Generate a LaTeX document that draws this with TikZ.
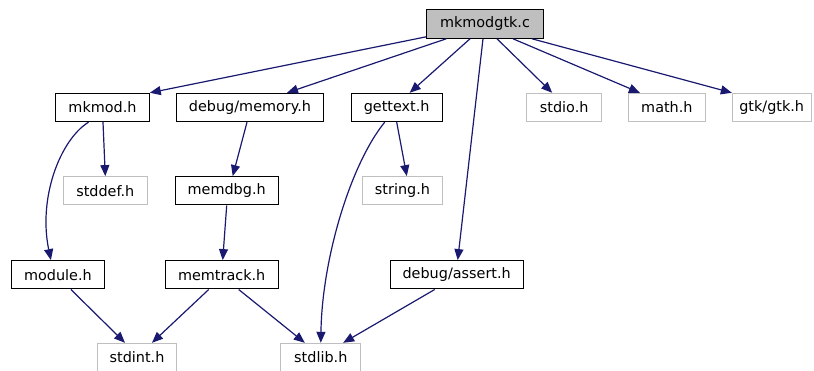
\documentclass[tikz,border=0pt]{standalone}
\usepackage{fontspec}
\setmainfont{DejaVu Sans}
\usetikzlibrary{arrows.meta}
\definecolor{edgeblue}{HTML}{191970}
\definecolor{graybd}{HTML}{BFBFBF}
\begin{document}
\begin{tikzpicture}[x=1pt,y=-1pt,
  box/.style={draw=black,line width=1pt,inner sep=0pt,minimum height=28.4pt,font=\fontsize{14.4}{16}\selectfont,text=black},
  sysbox/.style={box,draw=graybd},
  mainbox/.style={box,fill=graybd,minimum height=29pt},
  dep/.style={draw=edgeblue,line width=1.2pt,-{Triangle[length=11pt,width=9pt]}}]
\useasboundingbox (0,0) rectangle (814,371);
\node[mainbox,minimum width=116.6pt] (main) at (485,23.8) {mkmodgtk.c};
\node[box,minimum width=93.6pt] (mkmod) at (102.5,107.5) {mkmod.h};
\node[box,minimum width=146.6pt] (dmem) at (250,107.5) {debug/memory.h};
\node[box,minimum width=91.3pt] (gettext) at (396.7,107.5) {gettext.h};
\node[sysbox,minimum width=75pt] (stdio) at (564.2,107.5) {stdio.h};
\node[sysbox,minimum width=76.3pt] (math) at (666.9,107.5) {math.h};
\node[sysbox,minimum width=78.7pt] (gtk) at (771.7,107.5) {gtk/gtk.h};
\node[sysbox,minimum width=84pt] (stddef) at (105.3,190.8) {stddef.h};
\node[box,minimum width=103.3pt] (memdbg) at (226.7,190.8) {memdbg.h};
\node[sysbox,minimum width=79.6pt] (string) at (402.5,190.8) {string.h};
\node[box,minimum width=92.3pt] (module) at (57.9,274.8) {module.h};
\node[box,minimum width=113.3pt] (memtrack) at (221.7,274.8) {memtrack.h};
\node[box,minimum width=133.3pt] (dassert) at (456.7,274.8) {debug/assert.h};
\node[sysbox,minimum width=79.4pt] (stdint) at (137,357.5) {stdint.h};
\node[sysbox,minimum width=79.7pt] (stdlib) at (320.8,357.5) {stdlib.h};

\draw[dep] ([yshift=2pt]main.south west) -- (mkmod.north east);
\draw[dep] ([xshift=20pt]main.south west) -- ([xshift=37pt]dmem.north);
\draw[dep] ([xshift=-15pt]main.south) -- ([xshift=13pt]gettext.north);
\draw[dep] ([xshift=-2pt]main.south) -- ([xshift=1pt]dassert.north);
\draw[dep] ([xshift=12pt]main.south) -- ([xshift=-12pt]stdio.north);
\draw[dep] ([xshift=28pt]main.south) -- ([xshift=-27pt]math.north);
\draw[dep] ([xshift=47pt]main.south) -- (gtk.north west);
\draw[dep] ([xshift=0.5pt]mkmod.south) -- (stddef.north);
\draw[dep] ([xshift=-14pt]mkmod.south) .. controls (60,140) and (38,198) .. ([xshift=-7pt]module.north);
\draw[dep] ([xshift=-3pt]dmem.south) -- ([xshift=6pt]memdbg.north);
\draw[dep] (memdbg.south) -- ([xshift=1pt]memtrack.north);
\draw[dep] ([xshift=-13pt]memtrack.south) -- ([xshift=15pt]stdint.north);
\draw[dep] ([xshift=17pt]memtrack.south) -- ([xshift=-16pt]stdlib.north);
\draw[dep] ([xshift=13pt]module.south) -- ([xshift=-12pt]stdint.north);
\draw[dep] ([xshift=-12pt]gettext.south) .. controls (350,165) and (322,260) .. (stdlib.north);
\draw[dep] (gettext.south) -- ([xshift=4.3pt]string.north);
\draw[dep] ([xshift=-22pt]dassert.south) -- ([xshift=-18pt]stdlib.north east);
\end{tikzpicture}
\end{document}
